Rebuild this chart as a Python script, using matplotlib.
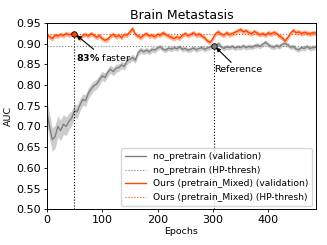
import numpy as np
import matplotlib
matplotlib.use('Agg')
import matplotlib.pyplot as plt

# epochs (every 5)
epochs = list(range(0, 490, 5))

# no_pretrain validation AUC
base_auc = [0.735, 0.700, 0.668, 0.675, 0.700, 0.690, 0.705, 0.700, 0.712, 0.720,
            0.738, 0.735, 0.752, 0.765, 0.762, 0.780, 0.790, 0.798, 0.802, 0.812,
            0.822, 0.818, 0.830, 0.838, 0.832, 0.840, 0.842, 0.848, 0.845, 0.858,
            0.862, 0.866, 0.860, 0.878, 0.884, 0.880, 0.884, 0.880, 0.886, 0.884,
            0.889, 0.892, 0.886, 0.884, 0.889, 0.886, 0.890, 0.887, 0.892, 0.886,
            0.888, 0.884, 0.886, 0.889, 0.885, 0.888, 0.890, 0.886, 0.889, 0.891,
            0.896, 0.893, 0.900, 0.892, 0.888, 0.892, 0.890, 0.893, 0.889, 0.892,
            0.890, 0.894, 0.890, 0.893, 0.891, 0.894, 0.896, 0.893, 0.898, 0.903,
            0.897, 0.893, 0.891, 0.895, 0.892, 0.898, 0.900, 0.897, 0.891, 0.893,
            0.887, 0.885, 0.890, 0.888, 0.893, 0.888, 0.890, 0.891]
base_std = [0.030, 0.030, 0.028, 0.028, 0.026, 0.025, 0.024, 0.022, 0.020, 0.018,
            0.017, 0.016, 0.015, 0.014, 0.014, 0.013, 0.013, 0.012, 0.012, 0.012,
            0.011, 0.011, 0.010, 0.010, 0.010, 0.010, 0.009, 0.009, 0.009, 0.009,
            0.008, 0.008, 0.008, 0.008, 0.007, 0.007, 0.007, 0.007, 0.007, 0.007,
            0.006, 0.006, 0.006, 0.006, 0.006, 0.006, 0.006, 0.006, 0.006, 0.006,
            0.006, 0.006, 0.006, 0.006, 0.006, 0.006, 0.006, 0.006, 0.006, 0.006,
            0.006, 0.006, 0.006, 0.006, 0.006, 0.006, 0.006, 0.006, 0.006, 0.006,
            0.006, 0.006, 0.006, 0.006, 0.006, 0.006, 0.006, 0.006, 0.006, 0.006,
            0.006, 0.006, 0.006, 0.006, 0.006, 0.006, 0.006, 0.006, 0.006, 0.006,
            0.006, 0.006, 0.006, 0.006, 0.006, 0.006, 0.006, 0.006]

# Ours (pretrain_Mixed) validation AUC
ours_auc = [0.922, 0.916, 0.912, 0.920, 0.918, 0.922, 0.919, 0.924, 0.921, 0.923,
            0.925, 0.918, 0.910, 0.920, 0.922, 0.918, 0.924, 0.920, 0.915, 0.919,
            0.912, 0.908, 0.910, 0.918, 0.922, 0.916, 0.920, 0.914, 0.922, 0.920,
            0.928, 0.936, 0.922, 0.918, 0.914, 0.920, 0.924, 0.918, 0.920, 0.916,
            0.922, 0.920, 0.926, 0.921, 0.918, 0.915, 0.912, 0.916, 0.913, 0.920,
            0.924, 0.919, 0.922, 0.926, 0.920, 0.923, 0.918, 0.914, 0.906, 0.903,
            0.912, 0.924, 0.928, 0.922, 0.920, 0.926, 0.921, 0.924, 0.927, 0.930,
            0.934, 0.928, 0.931, 0.926, 0.924, 0.929, 0.925, 0.921, 0.924, 0.920,
            0.926, 0.923, 0.927, 0.924, 0.918, 0.914, 0.906, 0.914, 0.924, 0.932,
            0.926, 0.928, 0.924, 0.927, 0.925, 0.923, 0.926, 0.925]
ours_std = 0.006

base_thresh = 0.895
ours_thresh = 0.924
ours_epoch = 50
ref_epoch = 302

c_base = '#808080'
c_ours = '#ff4500'

plt.rcParams['font.family'] = 'DejaVu Sans'
fig = plt.figure(figsize=(3.27, 2.45), dpi=100)
ax = fig.add_axes([0.143, 0.146, 0.823, 0.761])

ep = np.array(epochs)
b = np.array(base_auc)
bs = np.array(base_std)
o = np.array(ours_auc)

ax.fill_between(ep, b - bs, b + bs, color='#c4c4c4', alpha=0.85, lw=0)
ax.plot(ep, b, color=c_base, lw=1.0, label='no_pretrain (validation)')
ax.axhline(base_thresh, color=c_base, ls=':', lw=0.8, label='no_pretrain (HP-thresh)')
ax.fill_between(ep, o - ours_std, o + ours_std, color='#ff9a70', alpha=0.75, lw=0)
ax.plot(ep, o, color=c_ours, lw=1.0, label='Ours (pretrain_Mixed) (validation)')
ax.axhline(ours_thresh, color=c_ours, ls=':', lw=0.8, label='Ours (pretrain_Mixed) (HP-thresh)')

ax.plot([ours_epoch, ours_epoch], [0.5, ours_thresh], color='k', ls=':', lw=0.8)
ax.plot([ref_epoch, ref_epoch], [0.5, base_thresh], color='k', ls=':', lw=0.8)
ax.plot(ours_epoch, ours_thresh, 'o', ms=4, mfc=c_ours, mec='k', mew=0.6)
ax.plot(ref_epoch, base_thresh, 'o', ms=4, mfc=c_base, mec='k', mew=0.6)

ax.annotate(r'$\mathbf{83\%}$ faster', xy=(ours_epoch, ours_thresh), xytext=(53, 0.866),
            fontsize=6.8, va='center', ha='left',
            arrowprops=dict(arrowstyle='-|>', color='k', lw=0.8, shrinkA=0, shrinkB=2,
                            mutation_scale=6))
ax.annotate('Reference', xy=(ref_epoch, base_thresh), xytext=(303, 0.837),
            fontsize=6.8, va='center', ha='left',
            arrowprops=dict(arrowstyle='-|>', color='k', lw=0.8, shrinkA=0, shrinkB=2,
                            mutation_scale=6))

ax.set_xlim(0, 486)
ax.set_ylim(0.5, 0.95)
ax.set_xticks([0, 100, 200, 300, 400])
ax.set_yticks(np.arange(0.5, 0.951, 0.05))
ax.tick_params(labelsize=8, length=2.5, width=0.6, pad=2)
for s in ax.spines.values():
    s.set_linewidth(0.7)
ax.set_xlabel('Epochs', fontsize=6.8, labelpad=1)
ax.set_ylabel('AUC', fontsize=6.8, labelpad=2)
ax.set_title('Brain Metastasis', fontsize=9, pad=3)
ax.legend(loc='lower right', fontsize=6.6, frameon=True, handlelength=2.3,
          borderaxespad=0.4)

fig.savefig('out.png', dpi=100)
